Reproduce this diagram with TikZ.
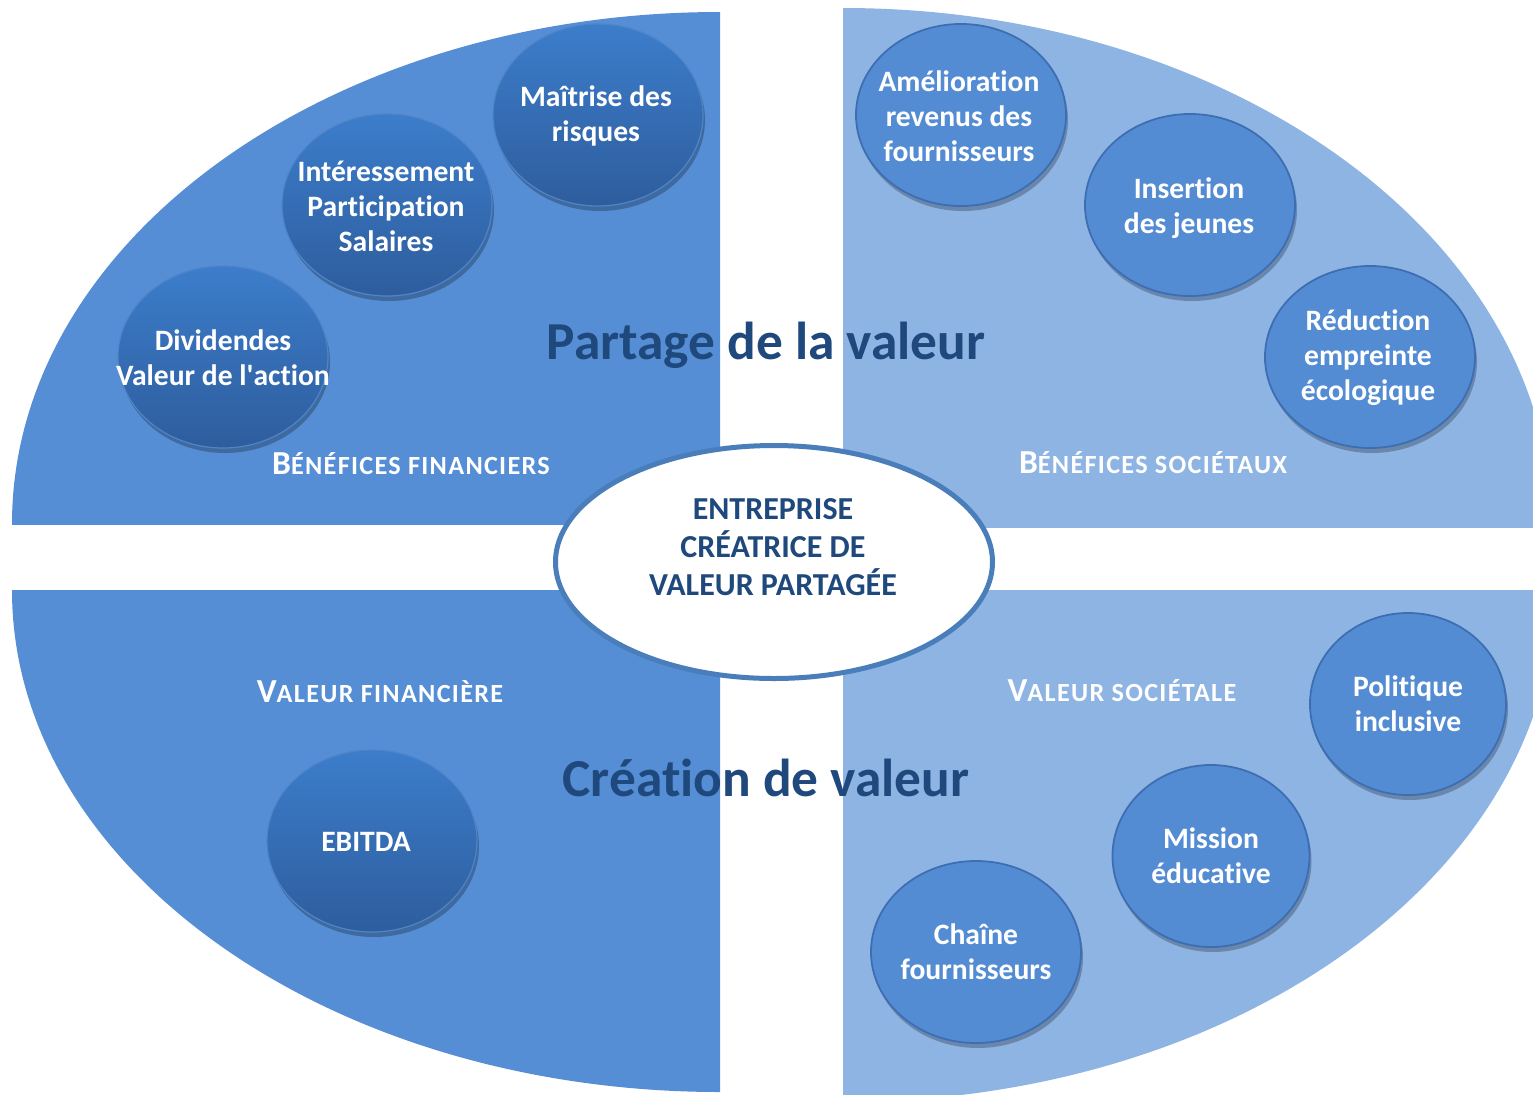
\documentclass[tikz,border=0pt]{standalone}
\usepackage{fontspec}
\setmainfont{Carlito}[Ligatures=TeX,RawFeature={-liga;-clig;-calt;-dlig}]
\newfontfamily\aposfont{Carlito}[RawFeature={-liga;-clig;-calt;-dlig}]
\usetikzlibrary{shapes.geometric,shadows}
\definecolor{qdark}{RGB}{85,142,213}
\definecolor{qlight}{RGB}{142,180,227}
\definecolor{ctop}{RGB}{60,125,203}
\definecolor{cbot}{RGB}{46,93,157}
\definecolor{cedge}{RGB}{80,132,200}
\definecolor{rfill}{RGB}{84,140,212}
\definecolor{redge}{RGB}{62,110,178}
\definecolor{navy}{RGB}{31,73,125}
\definecolor{ringc}{RGB}{74,126,187}
\newcommand{\bigsc}[1]{{\fontsize{16.8}{18}\selectfont\addfontfeature{LetterSpace=5}#1}}
\newcommand{\smsc}[1]{{\fontsize{13.1}{18}\selectfont\addfontfeature{LetterSpace=5}#1}}
\begin{document}
\begin{tikzpicture}[x=0.5pt,y=-0.5pt,
  softshadow/.style={drop shadow={shadow xshift=1pt,shadow yshift=-2.5pt,opacity=0.25,fill=black}},
  darkcirc/.style={ellipse,inner sep=0pt,minimum width=105pt,minimum height=91pt,
    draw=cedge,line width=0.6pt,top color=ctop,bottom color=cbot,softshadow},
  lightcirc/.style={ellipse,inner sep=0pt,minimum width=105pt,minimum height=91pt,
    draw=redge,line width=0.9pt,fill=rfill,softshadow},
  ctext/.style={text=white,align=center,inner sep=0pt,font=\bfseries\fontsize{14.8}{17.5}\selectfont},
  qlabel/.style={text=white,inner sep=0pt,anchor=base,font=\bfseries},
  bigtitle/.style={text=navy,inner sep=0pt,anchor=base,font=\bfseries\fontsize{26.7}{30}\selectfont},
  centertext/.style={text=navy,inner sep=0pt,anchor=base,font=\bfseries\fontsize{16}{19}\selectfont}]
\useasboundingbox (0,0) rectangle (1533,1094);
\fill[white] (0,0) rectangle (1533,1094);
% quadrants
\begin{scope}
  \clip (0,0) rectangle (720,524);
  \fill[qdark] (720,524) ellipse [x radius=708, y radius=512];
\end{scope}
\begin{scope}
  \clip (843,0) rectangle (1533,527);
  \fill[qlight] (843,527) ellipse [x radius=709, y radius=519];
\end{scope}
\begin{scope}
  \clip (0,590) rectangle (720,1094);
  \fill[qdark] (720,590) ellipse [x radius=708, y radius=502];
\end{scope}
\begin{scope}
  \clip (843,590) rectangle (1533,1094);
  \fill[qlight] (843,590) ellipse [x radius=712, y radius=512];
\end{scope}
% titles
\node[bigtitle] (partage) at (766,359) {Partage de la valeur};
\node[bigtitle] (creation) at (766,796) {Création de valeur};
% quadrant labels
\node[qlabel] (bf) at (411,474) {\bigsc{B}\smsc{ÉNÉFICES FINANCIERS}};
\node[qlabel] (bs) at (1153,473) {\bigsc{B}\smsc{ÉNÉFICES SOCIÉTAUX}};
\node[qlabel] (vf) at (380,702) {\bigsc{V}\smsc{ALEUR FINANCIÈRE}};
\node[qlabel] (vs) at (1122,701) {\bigsc{V}\smsc{ALEUR SOCIÉTALE}};
% centre
\node[ellipse,draw=ringc,line width=2.5pt,fill=white,inner sep=0pt,
      minimum width=218.5pt,minimum height=116.5pt] (centre) at (774,562) {};
\node[centertext] (c1) at (773,519) {ENTREPRISE};
\node[centertext] (c2) at (773,557) {CRÉATRICE DE};
\node[centertext] (c3) at (773,595) {VALEUR PARTAGÉE};
% dark circles
\node[darkcirc] (mai) at (598,115) {};
\node[ctext] (maiT) at (596,116) {Maîtrise des\\risques};
\node[darkcirc] (int) at (387,205) {};
\node[ctext] (intT) at (386,206) {Intéressement\\Participation\\Salaires};
\node[darkcirc] (div) at (223,357) {};
\node[ctext] (divT) at (223,358) {Dividendes\\Valeur de l{\aposfont\bfseries '}action};
\node[darkcirc] (ebi) at (372,841) {};
\node[ctext] (ebiT) at (366,842) {EBITDA};
% light circles
\node[lightcirc] (ame) at (961,115) {};
\node[ctext] (ameT) at (959,116) {Amélioration\\revenus des\\fournisseurs};
\node[lightcirc] (ins) at (1190,205) {};
\node[ctext] (insT) at (1189,208) {Insertion\\des jeunes};
\node[lightcirc] (red) at (1370,357) {};
\node[ctext] (redT) at (1368,358) {Réduction\\empreinte\\écologique};
\node[lightcirc,minimum width=98pt] (pol) at (1408,704) {};
\node[ctext] (polT) at (pol) {Politique\\inclusive};
\node[lightcirc,minimum width=98.5pt] (mis) at (1211,856) {};
\node[ctext] (misT) at (mis) {Mission\\éducative};
\node[lightcirc] (cha) at (976,952) {};
\node[ctext] (chaT) at (cha) {Chaîne\\fournisseurs};
\end{tikzpicture}
\end{document}
